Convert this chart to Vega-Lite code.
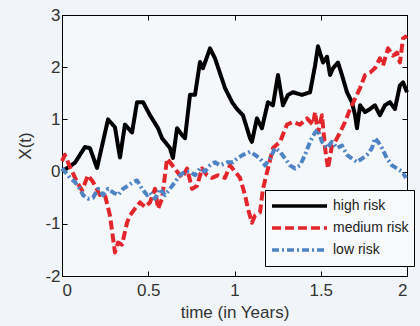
{
  "$schema": "https://vega.github.io/schema/vega-lite/v6.json",
  "width": 345,
  "height": 261,
  "autosize": "none",
  "padding": {"left": 62, "top": 15, "right": 13, "bottom": 50},
  "background": "#f1f5f9",
  "config": {
    "font": "Liberation Sans",
    "view": {"stroke": "#000", "strokeWidth": 1, "fill": "#f5f8fb"},
    "axis": {
      "domainColor": "#000",
      "tickColor": "#000",
      "tickSize": -5,
      "grid": false,
      "labelFont": "Liberation Sans",
      "labelFontSize": 17,
      "labelColor": "#333",
      "titleFont": "Liberation Sans",
      "titleFontSize": 17,
      "titleFontWeight": "normal",
      "titleColor": "#333"
    },
    "legend": {
      "orient": "none",
      "legendX": 203,
      "legendY": 175,
      "fillColor": "#f7f9fb",
      "strokeColor": "#000",
      "padding": 5,
      "symbolType": "stroke",
      "symbolSize": 3025,
      "symbolStrokeWidth": 3.5,
      "symbolOffset": 0,
      "clipHeight": 22,
      "rowPadding": 0,
      "labelFont": "Liberation Sans",
      "labelFontSize": 14,
      "labelColor": "#222",
      "labelOffset": 4,
      "title": null
    }
  },
  "datasets": {
    "walks": [
      {"series": "high risk", "t": 0, "v": 0},
      {"series": "high risk", "t": 0.075, "v": 0.17},
      {"series": "high risk", "t": 0.133, "v": 0.47},
      {"series": "high risk", "t": 0.162, "v": 0.45},
      {"series": "high risk", "t": 0.203, "v": 0.07},
      {"series": "high risk", "t": 0.267, "v": 1.0},
      {"series": "high risk", "t": 0.307, "v": 0.85},
      {"series": "high risk", "t": 0.336, "v": 0.27},
      {"series": "high risk", "t": 0.365, "v": 0.9},
      {"series": "high risk", "t": 0.406, "v": 0.75},
      {"series": "high risk", "t": 0.435, "v": 1.33},
      {"series": "high risk", "t": 0.47, "v": 1.33},
      {"series": "high risk", "t": 0.51, "v": 1.08},
      {"series": "high risk", "t": 0.557, "v": 0.83},
      {"series": "high risk", "t": 0.58, "v": 0.64},
      {"series": "high risk", "t": 0.597, "v": 0.57},
      {"series": "high risk", "t": 0.626, "v": 0.45},
      {"series": "high risk", "t": 0.643, "v": 0.26},
      {"series": "high risk", "t": 0.667, "v": 0.83},
      {"series": "high risk", "t": 0.696, "v": 0.7},
      {"series": "high risk", "t": 0.713, "v": 0.64},
      {"series": "high risk", "t": 0.742, "v": 1.47},
      {"series": "high risk", "t": 0.771, "v": 1.47},
      {"series": "high risk", "t": 0.8, "v": 2.1},
      {"series": "high risk", "t": 0.817, "v": 1.98},
      {"series": "high risk", "t": 0.858, "v": 2.36},
      {"series": "high risk", "t": 0.887, "v": 2.17},
      {"series": "high risk", "t": 0.945, "v": 1.6},
      {"series": "high risk", "t": 0.986, "v": 1.33},
      {"series": "high risk", "t": 1.014, "v": 1.2},
      {"series": "high risk", "t": 1.049, "v": 1.08},
      {"series": "high risk", "t": 1.09, "v": 0.64},
      {"series": "high risk", "t": 1.101, "v": 0.57},
      {"series": "high risk", "t": 1.13, "v": 1.02},
      {"series": "high risk", "t": 1.159, "v": 0.83},
      {"series": "high risk", "t": 1.194, "v": 1.33},
      {"series": "high risk", "t": 1.223, "v": 1.27},
      {"series": "high risk", "t": 1.252, "v": 1.85},
      {"series": "high risk", "t": 1.281, "v": 1.27},
      {"series": "high risk", "t": 1.31, "v": 1.47},
      {"series": "high risk", "t": 1.339, "v": 1.52},
      {"series": "high risk", "t": 1.391, "v": 1.47},
      {"series": "high risk", "t": 1.438, "v": 1.52},
      {"series": "high risk", "t": 1.467, "v": 2.03},
      {"series": "high risk", "t": 1.484, "v": 2.4},
      {"series": "high risk", "t": 1.513, "v": 2.09},
      {"series": "high risk", "t": 1.536, "v": 2.2},
      {"series": "high risk", "t": 1.554, "v": 1.85},
      {"series": "high risk", "t": 1.571, "v": 1.98},
      {"series": "high risk", "t": 1.6, "v": 2.09},
      {"series": "high risk", "t": 1.623, "v": 1.85},
      {"series": "high risk", "t": 1.652, "v": 1.52},
      {"series": "high risk", "t": 1.681, "v": 1.33},
      {"series": "high risk", "t": 1.699, "v": 1.08},
      {"series": "high risk", "t": 1.71, "v": 0.83},
      {"series": "high risk", "t": 1.728, "v": 1.27},
      {"series": "high risk", "t": 1.757, "v": 1.14},
      {"series": "high risk", "t": 1.786, "v": 1.2},
      {"series": "high risk", "t": 1.814, "v": 1.27},
      {"series": "high risk", "t": 1.843, "v": 1.08},
      {"series": "high risk", "t": 1.872, "v": 1.27},
      {"series": "high risk", "t": 1.901, "v": 1.33},
      {"series": "high risk", "t": 1.93, "v": 1.2},
      {"series": "high risk", "t": 1.959, "v": 1.65},
      {"series": "high risk", "t": 1.977, "v": 1.71},
      {"series": "high risk", "t": 2.0, "v": 1.52},

      {"series": "medium risk", "t": 0, "v": 0.2},
      {"series": "medium risk", "t": 0.017, "v": 0.32},
      {"series": "medium risk", "t": 0.046, "v": 0.09},
      {"series": "medium risk", "t": 0.087, "v": -0.2},
      {"series": "medium risk", "t": 0.116, "v": -0.36},
      {"series": "medium risk", "t": 0.151, "v": -0.07},
      {"series": "medium risk", "t": 0.18, "v": -0.2},
      {"series": "medium risk", "t": 0.22, "v": -0.45},
      {"series": "medium risk", "t": 0.249, "v": -0.45},
      {"series": "medium risk", "t": 0.278, "v": -0.84},
      {"series": "medium risk", "t": 0.296, "v": -1.28},
      {"series": "medium risk", "t": 0.307, "v": -1.55},
      {"series": "medium risk", "t": 0.325, "v": -1.36},
      {"series": "medium risk", "t": 0.348, "v": -1.4},
      {"series": "medium risk", "t": 0.377, "v": -0.98},
      {"series": "medium risk", "t": 0.394, "v": -0.84},
      {"series": "medium risk", "t": 0.423, "v": -0.71},
      {"series": "medium risk", "t": 0.452, "v": -0.59},
      {"series": "medium risk", "t": 0.481, "v": -0.68},
      {"series": "medium risk", "t": 0.51, "v": -0.59},
      {"series": "medium risk", "t": 0.539, "v": -0.33},
      {"series": "medium risk", "t": 0.557, "v": -0.71},
      {"series": "medium risk", "t": 0.58, "v": -0.52},
      {"series": "medium risk", "t": 0.609, "v": 0.25},
      {"series": "medium risk", "t": 0.626, "v": 0.18},
      {"series": "medium risk", "t": 0.667, "v": 0},
      {"series": "medium risk", "t": 0.696, "v": -0.12},
      {"series": "medium risk", "t": 0.725, "v": 0.06},
      {"series": "medium risk", "t": 0.754, "v": -0.33},
      {"series": "medium risk", "t": 0.783, "v": -0.27},
      {"series": "medium risk", "t": 0.812, "v": 0.06},
      {"series": "medium risk", "t": 0.841, "v": -0.07},
      {"series": "medium risk", "t": 0.87, "v": -0.12},
      {"series": "medium risk", "t": 0.904, "v": -0.07},
      {"series": "medium risk", "t": 0.945, "v": -0.12},
      {"series": "medium risk", "t": 0.974, "v": 0.12},
      {"series": "medium risk", "t": 1.003, "v": 0},
      {"series": "medium risk", "t": 1.032, "v": -0.12},
      {"series": "medium risk", "t": 1.061, "v": -0.45},
      {"series": "medium risk", "t": 1.078, "v": -0.71},
      {"series": "medium risk", "t": 1.101, "v": -0.98},
      {"series": "medium risk", "t": 1.119, "v": -0.84},
      {"series": "medium risk", "t": 1.148, "v": -0.78},
      {"series": "medium risk", "t": 1.165, "v": -0.33},
      {"series": "medium risk", "t": 1.194, "v": 0.06},
      {"series": "medium risk", "t": 1.223, "v": 0.45},
      {"series": "medium risk", "t": 1.264, "v": 0.57},
      {"series": "medium risk", "t": 1.304, "v": 0.9},
      {"series": "medium risk", "t": 1.339, "v": 0.95},
      {"series": "medium risk", "t": 1.38, "v": 0.9},
      {"series": "medium risk", "t": 1.42, "v": 1.02},
      {"series": "medium risk", "t": 1.455, "v": 0.9},
      {"series": "medium risk", "t": 1.467, "v": 1.14},
      {"series": "medium risk", "t": 1.484, "v": 0.75},
      {"series": "medium risk", "t": 1.507, "v": 1.08},
      {"series": "medium risk", "t": 1.525, "v": 0.45},
      {"series": "medium risk", "t": 1.542, "v": 0.06},
      {"series": "medium risk", "t": 1.565, "v": 0.5},
      {"series": "medium risk", "t": 1.583, "v": 0.57},
      {"series": "medium risk", "t": 1.612, "v": 0.75},
      {"series": "medium risk", "t": 1.641, "v": 0.95},
      {"series": "medium risk", "t": 1.67, "v": 1.2},
      {"series": "medium risk", "t": 1.699, "v": 1.4},
      {"series": "medium risk", "t": 1.728, "v": 1.6},
      {"series": "medium risk", "t": 1.757, "v": 1.85},
      {"series": "medium risk", "t": 1.786, "v": 1.9},
      {"series": "medium risk", "t": 1.814, "v": 1.98},
      {"series": "medium risk", "t": 1.843, "v": 2.17},
      {"series": "medium risk", "t": 1.861, "v": 2.03},
      {"series": "medium risk", "t": 1.89, "v": 2.36},
      {"series": "medium risk", "t": 1.919, "v": 2.22},
      {"series": "medium risk", "t": 1.942, "v": 2.28},
      {"series": "medium risk", "t": 1.959, "v": 2.09},
      {"series": "medium risk", "t": 1.977, "v": 2.55},
      {"series": "medium risk", "t": 2.0, "v": 2.6},

      {"series": "low risk", "t": 0, "v": 0.06},
      {"series": "low risk", "t": 0.017, "v": 0},
      {"series": "low risk", "t": 0.046, "v": -0.12},
      {"series": "low risk", "t": 0.075, "v": -0.2},
      {"series": "low risk", "t": 0.104, "v": -0.33},
      {"series": "low risk", "t": 0.122, "v": -0.45},
      {"series": "low risk", "t": 0.151, "v": -0.52},
      {"series": "low risk", "t": 0.18, "v": -0.5},
      {"series": "low risk", "t": 0.209, "v": -0.33},
      {"series": "low risk", "t": 0.238, "v": -0.45},
      {"series": "low risk", "t": 0.267, "v": -0.33},
      {"series": "low risk", "t": 0.296, "v": -0.4},
      {"series": "low risk", "t": 0.325, "v": -0.45},
      {"series": "low risk", "t": 0.354, "v": -0.33},
      {"series": "low risk", "t": 0.383, "v": -0.27},
      {"series": "low risk", "t": 0.412, "v": -0.2},
      {"series": "low risk", "t": 0.435, "v": -0.17},
      {"series": "low risk", "t": 0.464, "v": -0.33},
      {"series": "low risk", "t": 0.493, "v": -0.45},
      {"series": "low risk", "t": 0.51, "v": -0.4},
      {"series": "low risk", "t": 0.539, "v": -0.52},
      {"series": "low risk", "t": 0.568, "v": -0.33},
      {"series": "low risk", "t": 0.597, "v": -0.45},
      {"series": "low risk", "t": 0.626, "v": -0.33},
      {"series": "low risk", "t": 0.655, "v": -0.2},
      {"series": "low risk", "t": 0.684, "v": -0.07},
      {"series": "low risk", "t": 0.713, "v": 0},
      {"series": "low risk", "t": 0.742, "v": 0},
      {"series": "low risk", "t": 0.771, "v": -0.07},
      {"series": "low risk", "t": 0.8, "v": 0.06},
      {"series": "low risk", "t": 0.829, "v": 0},
      {"series": "low risk", "t": 0.858, "v": 0.12},
      {"series": "low risk", "t": 0.887, "v": 0.18},
      {"series": "low risk", "t": 0.916, "v": 0.12},
      {"series": "low risk", "t": 0.957, "v": 0.18},
      {"series": "low risk", "t": 0.991, "v": 0.18},
      {"series": "low risk", "t": 1.014, "v": 0.25},
      {"series": "low risk", "t": 1.049, "v": 0.32},
      {"series": "low risk", "t": 1.09, "v": 0.38},
      {"series": "low risk", "t": 1.119, "v": 0.32},
      {"series": "low risk", "t": 1.148, "v": 0.25},
      {"series": "low risk", "t": 1.177, "v": 0.12},
      {"series": "low risk", "t": 1.206, "v": 0.25},
      {"series": "low risk", "t": 1.235, "v": 0.45},
      {"series": "low risk", "t": 1.264, "v": 0.38},
      {"series": "low risk", "t": 1.293, "v": 0.25},
      {"series": "low risk", "t": 1.322, "v": 0.12},
      {"series": "low risk", "t": 1.351, "v": 0.06},
      {"series": "low risk", "t": 1.38, "v": 0.12},
      {"series": "low risk", "t": 1.409, "v": 0.32},
      {"series": "low risk", "t": 1.438, "v": 0.57},
      {"series": "low risk", "t": 1.467, "v": 0.75},
      {"series": "low risk", "t": 1.484, "v": 0.8},
      {"series": "low risk", "t": 1.507, "v": 0.57},
      {"series": "low risk", "t": 1.536, "v": 0.45},
      {"series": "low risk", "t": 1.565, "v": 0.57},
      {"series": "low risk", "t": 1.594, "v": 0.45},
      {"series": "low risk", "t": 1.623, "v": 0.5},
      {"series": "low risk", "t": 1.652, "v": 0.32},
      {"series": "low risk", "t": 1.681, "v": 0.25},
      {"series": "low risk", "t": 1.71, "v": 0.18},
      {"series": "low risk", "t": 1.739, "v": 0.25},
      {"series": "low risk", "t": 1.768, "v": 0.32},
      {"series": "low risk", "t": 1.797, "v": 0.45},
      {"series": "low risk", "t": 1.814, "v": 0.64},
      {"series": "low risk", "t": 1.832, "v": 0.57},
      {"series": "low risk", "t": 1.855, "v": 0.45},
      {"series": "low risk", "t": 1.884, "v": 0.25},
      {"series": "low risk", "t": 1.913, "v": 0.12},
      {"series": "low risk", "t": 1.942, "v": 0.06},
      {"series": "low risk", "t": 1.971, "v": 0},
      {"series": "low risk", "t": 1.994, "v": -0.12}
    ]
  },
  "data": {"name": "walks"},
  "layer": [
    {
      "mark": {"type": "line", "strokeWidth": 4, "strokeJoin": "round"},
      "encoding": {
        "x": {
          "field": "t", "type": "quantitative",
          "scale": {"domain": [0, 2], "nice": false},
          "axis": {"values": [0, 0.5, 1, 1.5, 2], "format": "~g", "title": "time (in Years)", "labelPadding": 11, "titlePadding": 6}
        },
        "y": {
          "field": "v", "type": "quantitative",
          "scale": {"domain": [-2, 3], "nice": false, "zero": false},
          "axis": {"values": [-2, -1, 0, 1, 2, 3], "labelExpr": "'' + datum.value", "title": "X(t)", "labelPadding": 7, "titlePadding": 10}
        },
        "color": {
          "field": "series", "type": "nominal",
          "scale": {"domain": ["high risk", "medium risk", "low risk"], "range": ["#000000", "#e3262b", "#4f84c4"]},
          "legend": {"title": null}
        },
        "strokeDash": {
          "field": "series", "type": "nominal",
          "scale": {"domain": ["high risk", "medium risk", "low risk"], "range": [[1, 0], [9, 4], [7, 3, 2, 3]]},
          "legend": {"title": null}
        }
      }
    },
    {
      "mark": {"type": "line", "opacity": 0},
      "encoding": {
        "x": {"field": "t", "type": "quantitative", "axis": {"orient": "top", "values": [0, 0.5, 1, 1.5, 2], "labels": false, "title": null}},
        "y": {"field": "v", "type": "quantitative", "axis": {"orient": "right", "values": [-2, -1, 0, 1, 2, 3], "labels": false, "title": null}}
      }
    }
  ],
  "resolve": {"axis": {"x": "independent", "y": "independent"}}
}
